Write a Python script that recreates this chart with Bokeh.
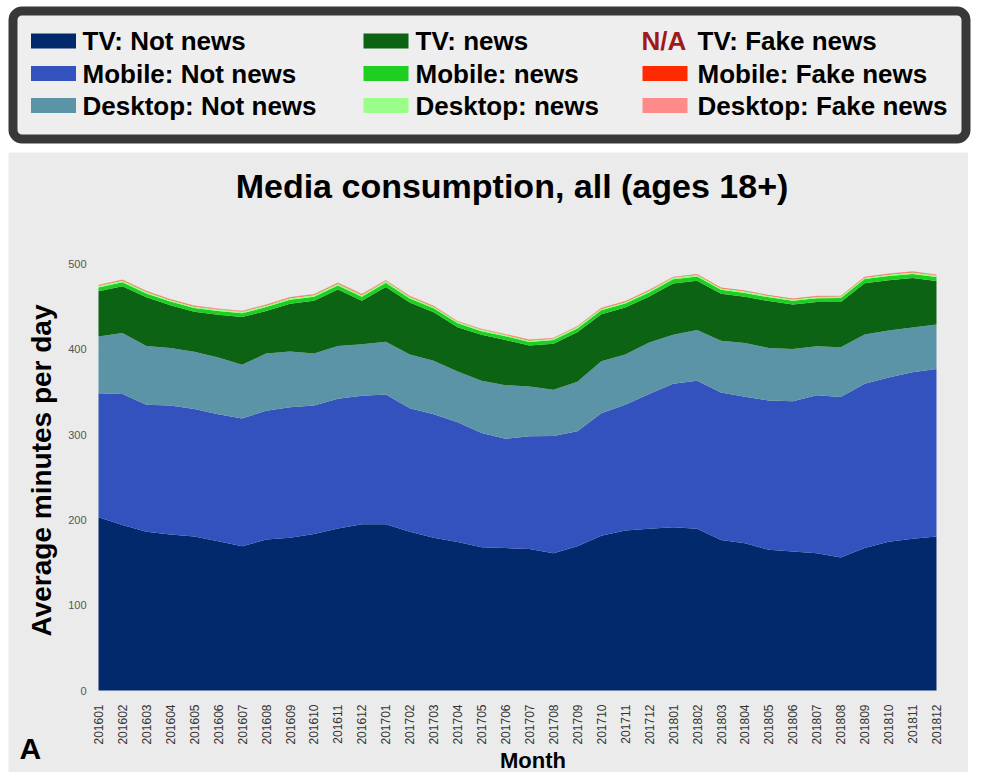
import math
from bokeh.plotting import figure
from bokeh.models import ColumnDataSource, Range1d, FixedTicker, BoxAnnotation, Spacer
from bokeh.layouts import column, row
from bokeh.embed import file_html
from bokeh.resources import INLINE
from bokeh.core.properties import value

# ---------------- data ----------------
months = ["201601", "201602", "201603", "201604", "201605", "201606",
          "201607", "201608", "201609", "201610", "201611", "201612",
          "201701", "201702", "201703", "201704", "201705", "201706",
          "201707", "201708", "201709", "201710", "201711", "201712",
          "201801", "201802", "201803", "201804", "201805", "201806",
          "201807", "201808", "201809", "201810", "201811", "201812"]

tv_not_news = [203, 194, 186, 183, 180.5, 175, 169, 177, 179, 183.5, 190, 195,
               195, 186, 179, 174, 168, 167, 166, 161, 169, 181.5, 187.5, 189.5,
               191.5, 189.5, 176.5, 172.5, 165, 163, 161, 156, 167, 174.5, 178, 180.5]
mobile_not_news = [145.5, 153.5, 149, 151, 149.5, 149, 150, 151, 153, 150.5, 152, 150.5,
                   152, 145, 145, 140.5, 134, 128, 132, 137.5, 135, 143.5, 147.5, 158,
                   168, 173.5, 173, 172, 175, 176, 185, 188, 192.5, 192.5, 195, 196.5]
desktop_not_news = [66.5, 71.5, 69, 67.5, 67, 66.5, 63, 67, 65.5, 61, 62, 60.5,
                    62, 63, 62.5, 59.5, 61, 63, 58.5, 54, 58, 61, 59, 60.5,
                    57.5, 59.5, 60.5, 63, 61.5, 61.5, 57.5, 58.5, 58, 55, 52.5, 52]
tv_news = [53, 55, 57, 50, 47, 50, 56, 50, 56, 62, 66, 51,
           64, 61, 57, 52, 54, 53, 48, 54, 58, 55, 55, 54,
           60, 58, 55, 54, 55, 52, 52, 53, 60, 59, 58, 51]
mobile_news = [4.4, 4.6, 4.5, 4.4, 4.3, 4.3, 4.4, 4.5, 4.6, 4.6, 4.8, 4.7,
               4.9, 4.7, 4.6, 4.4, 4.3, 4.3, 4.2, 4.3, 4.5, 4.7, 4.6, 4.7,
               5.0, 4.9, 4.7, 4.6, 4.5, 4.4, 4.4, 4.5, 4.8, 4.9, 4.9, 4.8]
desktop_news = [2.0, 2.1, 2.0, 1.9, 1.9, 1.8, 1.8, 1.9, 1.9, 2.0, 2.1, 2.0,
                2.1, 2.0, 1.9, 1.8, 1.8, 1.7, 1.7, 1.8, 1.8, 1.9, 1.9, 2.0,
                2.1, 2.0, 1.9, 1.9, 1.8, 1.8, 1.8, 1.8, 1.9, 1.9, 2.0, 1.9]
mobile_fake_news = [0.5, 0.5, 0.5, 0.5, 0.5, 0.5, 0.5, 0.5, 0.6, 0.6, 0.6, 0.6,
                    0.5, 0.5, 0.5, 0.5, 0.5, 0.5, 0.5, 0.5, 0.5, 0.5, 0.5, 0.5,
                    0.5, 0.5, 0.5, 0.5, 0.5, 0.5, 0.5, 0.5, 0.5, 0.5, 0.5, 0.5]
desktop_fake_news = [0.7, 0.7, 0.7, 0.6, 0.6, 0.6, 0.6, 0.6, 0.7, 0.7, 0.8, 0.7,
                     0.7, 0.6, 0.6, 0.5, 0.5, 0.5, 0.5, 0.5, 0.5, 0.5, 0.5, 0.5,
                     0.5, 0.5, 0.5, 0.5, 0.5, 0.5, 0.5, 0.5, 0.5, 0.5, 0.5, 0.5]

series_labels = ["TV: Not news", "Mobile: Not news", "Desktop: Not news",
                 "TV: news", "Mobile: news", "Desktop: news",
                 "TV: Fake news", "Mobile: Fake news", "Desktop: Fake news"]
series_colors = ["#02296c", "#3352be", "#5b94a6",
                 "#0b6313", "#1ecf22", "#99ff88",
                 None, "#ff2a00", "#ff8a8a"]
y_ticks = [0, 100, 200, 300, 400, 500]

title_text = "Media consumption, all (ages 18+)"
y_label = "Average minutes per day"
x_label = "Month"
panel_tag = "A"
na_text = "N/A"

FONT = "Liberation Sans"

# ---------------- legend box ----------------
W1, H1 = 976, 148
leg = figure(width=W1, height=H1, x_range=Range1d(0, W1), y_range=Range1d(0, H1),
             toolbar_location=None, output_backend="svg", min_border=0,
             x_axis_location=None, y_axis_location=None)
leg.grid.visible = False
leg.outline_line_color = None
leg.background_fill_color = "white"
leg.border_fill_color = "white"
leg.add_layout(BoxAnnotation(left=12.5, right=965.5, bottom=9.5, top=137.5,
                             fill_color="#eeeeee", fill_alpha=1.0,
                             line_color="#383838", line_alpha=1.0, line_width=9,
                             border_radius=9, level="underlay"))

col_swatch_x = [53, 385.5, 664.5]
col_text_x = [82, 415, 697]
row_y = [107.5, 75, 43]
sw_x, sw_y, sw_c, tx_x, tx_y, tx_t = [], [], [], [], [], []
for k, (lab, colr) in enumerate(zip(series_labels, series_colors)):
    c, r = k // 3, k % 3
    if colr is not None:
        sw_x.append(col_swatch_x[c]); sw_y.append(row_y[r]); sw_c.append(colr)
    tx_x.append(col_text_x[c]); tx_y.append(row_y[r]); tx_t.append(lab)
leg.rect(x=sw_x, y=sw_y, width=45, height=15, fill_color=sw_c, line_color=None)
leg.text(x=tx_x, y=tx_y, text=tx_t, text_font=value(FONT), text_font_style="bold",
         text_font_size="26px", text_baseline="middle", text_align="left",
         text_color="black")
leg.text(x=[641], y=[row_y[0]], text=[na_text], text_font=value(FONT),
         text_font_style="bold", text_font_size="26px", text_baseline="middle",
         text_align="left", text_color="#a01a1a")

# ---------------- chart ----------------
xs = list(range(len(months)))
stack_keys = ["tv_nn", "mob_nn", "desk_nn", "tv_n", "mob_n", "desk_n", "mob_f", "desk_f"]
src = ColumnDataSource(dict(x=xs, tv_nn=tv_not_news, mob_nn=mobile_not_news,
                            desk_nn=desktop_not_news, tv_n=tv_news, mob_n=mobile_news,
                            desk_n=desktop_news, mob_f=mobile_fake_news,
                            desk_f=desktop_fake_news))
stack_colors = [c for c in series_colors if c is not None]

p = figure(width=960, height=620, x_range=Range1d(-3.759, 36.337),
           y_range=Range1d(-96.13, 630.72), toolbar_location=None, output_backend="svg",
           title=None, min_border_left=0, min_border_right=0, min_border_top=0,
           min_border_bottom=0)
p.varea_stack(stackers=stack_keys, x="x", color=stack_colors, source=src)

p.background_fill_color = "#ebebeb"
p.border_fill_color = "#ebebeb"
p.outline_line_color = None
p.grid.visible = False

# chart title (placed above the plotted area)
p.text(x=[17.27], y=[592.0], text=[title_text], text_font=value(FONT),
       text_font_style="bold", text_font_size="34px", text_align="center",
       text_baseline="middle", text_color="black")

p.xaxis.fixed_location = 0
p.xaxis.bounds = (0, 36.3)
p.xaxis.ticker = FixedTicker(ticks=xs)
p.xaxis.major_label_overrides = {i: m for i, m in enumerate(months)}
p.xaxis.major_label_orientation = math.pi / 2
p.xaxis.major_label_text_font_size = "12px"
p.xaxis.major_label_text_color = "#333333"
p.xaxis.major_label_standoff = 8
p.xaxis.axis_label = x_label
p.xaxis.axis_label_text_font_size = "22px"
p.xaxis.axis_label_standoff = 0

p.yaxis.fixed_location = 0
p.yaxis.bounds = (0, 516)
p.yaxis.ticker = FixedTicker(ticks=y_ticks)
p.yaxis.major_label_text_font_size = "11px"
p.yaxis.major_label_text_color = "#555555"
p.yaxis.major_label_standoff = 6
p.yaxis.axis_label = y_label
p.yaxis.axis_label_text_font_size = "28px"
p.yaxis.axis_label_standoff = 8

for ax in [p.xaxis, p.yaxis]:
    ax.axis_line_color = None
    ax.major_tick_line_color = None
    ax.minor_tick_line_color = None
    ax.major_label_text_font = FONT
    ax.axis_label_text_font = FONT
    ax.axis_label_text_font_style = "bold"
    ax.axis_label_text_color = "black"

p.text(x=[-2.85], y=[-68], text=[panel_tag], text_font=value(FONT),
       text_font_style="bold", text_font_size="30px", text_align="center",
       text_baseline="middle", text_color="black")

layout = column(leg, row(Spacer(width=8, height=620), p), spacing=4)
open("out.html", "w").write(file_html(layout, INLINE))
